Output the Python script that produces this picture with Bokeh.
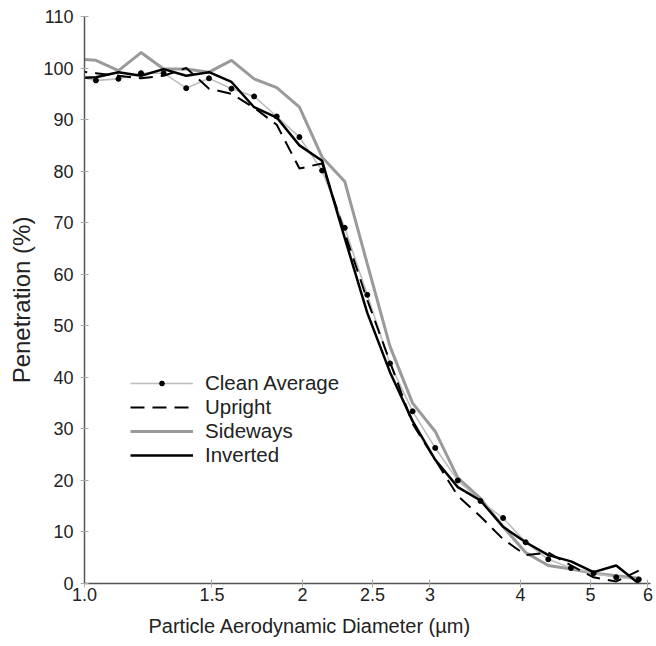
from bokeh.plotting import figure
from bokeh.models import FixedTicker, Legend, LegendItem, Title
from bokeh.embed import file_html
from bokeh.resources import INLINE

# Particle aerodynamic diameter (µm), APS channel midpoints
diameter = [0.965, 1.037, 1.114, 1.197, 1.286, 1.382, 1.486, 1.596, 1.715, 1.843,
            1.981, 2.129, 2.288, 2.458, 2.642, 2.839, 3.051, 3.278, 3.523, 3.786,
            4.068, 4.371, 4.698, 5.048, 5.425, 5.829]

clean_average = [98.5, 97.6, 97.9, 99.0, 99.0, 96.1, 98.0, 96.0, 94.5, 90.6,
                 86.6, 80.1, 69.0, 56.0, 42.7, 33.4, 26.3, 20.0, 16.0, 12.7,
                 8.0, 4.7, 3.0, 2.0, 1.2, 0.8]

upright = [99.5, 99.0, 98.5, 98.0, 98.5, 100.0, 96.0, 95.0, 92.3, 89.0,
           80.5, 81.5, 68.0, 55.0, 43.0, 31.0, 24.0, 17.0, 13.0, 8.6,
           5.5, 6.0, 3.5, 1.2, 0.4, 2.5]

sideways = [101.8, 101.5, 99.5, 103.0, 99.8, 99.8, 99.2, 101.5, 97.9, 96.2,
            92.4, 82.7, 78.0, 62.0, 46.0, 35.0, 29.5, 20.5, 16.5, 11.0,
            6.0, 3.5, 2.8, 2.0, 1.5, 1.0]

inverted = [98.0, 98.2, 99.2, 98.5, 99.8, 98.5, 99.2, 97.3, 92.4, 90.4,
            85.0, 82.0, 67.0, 52.5, 41.0, 31.5, 24.0, 18.7, 16.1, 11.0,
            8.0, 5.5, 4.3, 2.2, 3.5, 0.0]

x_ticks = [1.0, 1.5, 2.0, 2.5, 3.0, 4.0, 5.0, 6.0]
x_tick_labels = ["1.0", "1.5", "2", "2.5", "3", "4", "5", "6"]
y_ticks = [0, 10, 20, 30, 40, 50, 60, 70, 80, 90, 100, 110]

FONT = "Liberation Sans"

p = figure(width=656, height=646, x_axis_type="log",
           x_range=(1.0, 6.05), y_range=(0, 110),
           output_backend="svg", toolbar_location=None,
           min_border_left=84, min_border_right=6,
           min_border_top=16, min_border_bottom=63)

r_side = p.line(diameter, sideways, line_color="#9a9a9a", line_width=3)
r_clean = p.line(diameter, clean_average, line_color="#bdbdbd", line_width=1.6)
r_dots = p.scatter(diameter, clean_average, size=5, color="black")
r_up = p.line(diameter, upright, line_color="black", line_width=2, line_dash="14 8")
r_inv = p.line(diameter, inverted, line_color="black", line_width=2.5)

p.xaxis.ticker = FixedTicker(ticks=x_ticks, minor_ticks=[])
p.xaxis.major_label_overrides = {float(t): lab for t, lab in zip(x_ticks, x_tick_labels)}
p.yaxis.ticker = FixedTicker(ticks=y_ticks, minor_ticks=[])

for ax in (p.xaxis[0], p.yaxis[0]):
    ax.axis_line_color = "#555555"
    ax.axis_line_width = 1.5
    ax.major_tick_line_color = "#aaaaaa"
    ax.major_tick_in = 4
    ax.major_tick_out = 4
    ax.minor_tick_line_color = None
    ax.major_label_text_font = FONT
    ax.major_label_text_font_size = "18px"
    ax.major_label_text_color = "#222222"

p.xaxis.major_label_standoff = 0
p.yaxis.major_label_standoff = 7
p.yaxis.axis_label = "Penetration (%)"
p.yaxis.axis_label_text_font = FONT
p.yaxis.axis_label_text_font_size = "24px"
p.yaxis.axis_label_text_font_style = "normal"
p.yaxis.axis_label_text_color = "#222222"
p.yaxis.axis_label_standoff = 5

xt = Title(text="Particle Aerodynamic Diameter (µm)", align="left", offset=64,
           text_font=FONT, text_font_size="20px", text_font_style="normal",
           text_color="#222222", standoff=19)
p.add_layout(xt, "below")

p.xgrid.visible = False
p.ygrid.visible = False
p.outline_line_color = None

legend = Legend(items=[
    LegendItem(label="Clean Average", renderers=[r_clean, r_dots]),
    LegendItem(label="Upright", renderers=[r_up]),
    LegendItem(label="Sideways", renderers=[r_side]),
    LegendItem(label="Inverted", renderers=[r_inv]),
], location=(46, 116), glyph_width=63, glyph_height=12, label_height=23,
   spacing=0, padding=0, margin=0, label_standoff=12,
   label_text_font=FONT, label_text_font_size="20.5px", label_text_color="#222222",
   border_line_color=None, background_fill_alpha=0)
p.add_layout(legend)

open("out.html", "w").write(file_html(p, INLINE))
